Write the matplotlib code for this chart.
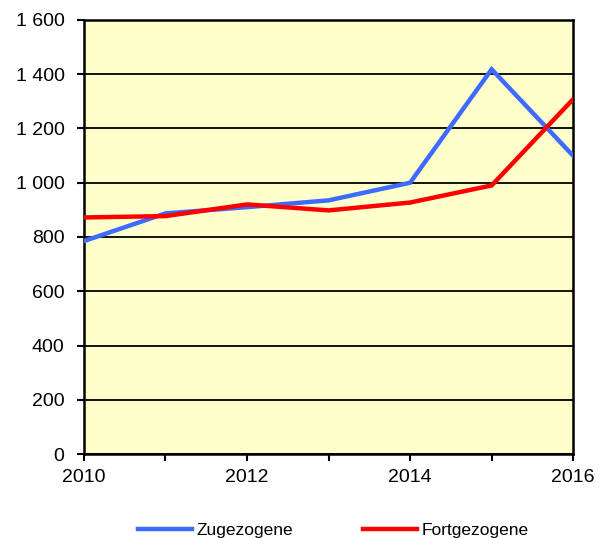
import matplotlib
matplotlib.use('Agg')
import matplotlib.pyplot as plt
from matplotlib.ticker import FuncFormatter, MultipleLocator

plt.rcParams['font.family'] = ['Liberation Sans', 'DejaVu Sans']

years = [2010, 2011, 2012, 2013, 2014, 2015, 2016]
zugezogene = [785, 887, 910, 935, 1000, 1418, 1099]
fortgezogene = [872, 877, 920, 898, 927, 990, 1308]
series_names = ['Zugezogene', 'Fortgezogene']


def thousands(v, pos):
    return '{:,}'.format(int(v)).replace(',', ' ')


fig = plt.figure(figsize=(6.04, 5.38), dpi=100)
ax = fig.add_axes([0.139, 0.156, 0.810, 0.807])
ax.set_facecolor('#ffffcc')

ax.plot(years, zugezogene, color='#3d6bff', lw=3.2, label=series_names[0],
        solid_joinstyle='miter', zorder=3)
ax.plot(years, fortgezogene, color='#ff0000', lw=3.2, label=series_names[1],
        solid_joinstyle='miter', zorder=3)

ax.set_xlim(2010, 2016)
ax.set_ylim(0, 1600)
ax.yaxis.set_major_locator(MultipleLocator(200))
ax.yaxis.set_major_formatter(FuncFormatter(thousands))
ax.set_xticks(years)
ax.set_xticklabels([str(y) if y % 2 == 0 else '' for y in years])
ax.grid(axis='y', color='black', lw=1.3, zorder=1)
ax.set_axisbelow(True)

for s in ax.spines.values():
    s.set_linewidth(1.8)
    s.set_color('black')
ax.tick_params(direction='out', length=5, width=1.5, labelsize=14)
ax.tick_params(axis='y', pad=9)
ax.tick_params(axis='x', pad=6)

fig.legend(loc='center', bbox_to_anchor=(0.552, 0.014), ncol=2, frameon=False,
           fontsize=12.5, handlelength=3.1, handletextpad=0.29, columnspacing=4.0)

fig.savefig('out.png', dpi=100)
plt.close(fig)
